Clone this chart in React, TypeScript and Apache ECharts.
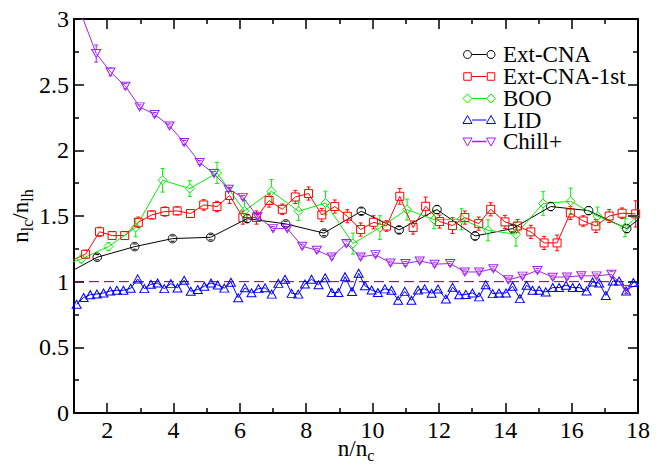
import React, { useEffect, useRef } from "react";
import * as echarts from "echarts";

const FONT = "Liberation Serif";

// ---------- data ----------
const seriesNames = ["Ext-CNA", "Ext-CNA-1st", "BOO", "LID", "Chill+"];

const cnaX = [0.56, 1.70, 2.83, 3.97, 5.12, 6.22, 7.38, 8.53, 9.66, 10.80, 11.94, 13.09, 14.22, 15.37, 16.51, 17.66, 18.80];
const cnaY = [1.03, 1.186, 1.267, 1.328, 1.338, 1.48, 1.44, 1.37, 1.536, 1.394, 1.549, 1.348, 1.404, 1.572, 1.541, 1.404, 1.63];
const cnaErr = [0.02, 0.02, 0.02, 0.02, 0.02, 0.03, 0.02, 0.02, 0.025, 0.025, 0.03, 0.03, 0.025, 0.03, 0.03, 0.03, 0.03];

const cna1X = [0.96, 1.35, 1.77, 2.15, 2.53, 2.94, 3.34, 3.74, 4.11, 4.51, 4.91, 5.31, 5.69, 6.09, 6.50, 6.88, 7.28, 7.67, 8.07, 8.47, 8.86, 9.24, 9.64, 10.03, 10.42, 10.82, 11.22, 11.60, 12.02, 12.41, 12.78, 13.20, 13.56, 13.99, 14.37, 14.77, 15.17, 15.56, 15.96, 16.35, 16.73, 17.13, 17.52, 17.93];
const cna1Y = [1.165, 1.209, 1.38, 1.351, 1.351, 1.452, 1.508, 1.534, 1.539, 1.519, 1.584, 1.572, 1.656, 1.488, 1.488, 1.618, 1.551, 1.645, 1.671, 1.508, 1.572, 1.498, 1.397, 1.452, 1.424, 1.650, 1.412, 1.574, 1.458, 1.427, 1.488, 1.442, 1.551, 1.455, 1.424, 1.379, 1.295, 1.295, 1.523, 1.462, 1.424, 1.500, 1.521, 1.516];
const cna1Err = [0.03, 0.03, 0.035, 0.03, 0.03, 0.04, 0.03, 0.035, 0.03, 0.03, 0.04, 0.04, 0.06, 0.05, 0.05, 0.05, 0.04, 0.05, 0.05, 0.05, 0.05, 0.05, 0.05, 0.05, 0.04, 0.06, 0.05, 0.07, 0.05, 0.06, 0.05, 0.05, 0.05, 0.05, 0.05, 0.05, 0.05, 0.06, 0.05, 0.04, 0.05, 0.05, 0.04, 0.1];

const booX = [0.40, 1.22, 2.04, 2.86, 3.67, 4.49, 5.31, 6.14, 6.95, 7.77, 8.58, 9.41, 10.22, 11.04, 11.85, 12.68, 13.48, 14.32, 15.14, 15.97, 16.78, 17.61, 18.43];
const booY = [1.10, 1.173, 1.267, 1.412, 1.772, 1.709, 1.828, 1.539, 1.688, 1.536, 1.599, 1.290, 1.412, 1.549, 1.473, 1.475, 1.391, 1.361, 1.595, 1.612, 1.498, 1.412, 1.60];
const booErr = [0.03, 0.03, 0.03, 0.07, 0.09, 0.06, 0.08, 0.08, 0.09, 0.07, 0.09, 0.08, 0.09, 0.08, 0.07, 0.08, 0.08, 0.09, 0.09, 0.1, 0.07, 0.07, 0.07];

const lidX = [1.08, 1.29, 1.49, 1.69, 1.89, 2.09, 2.29, 2.49, 2.71, 2.92, 3.12, 3.32, 3.52, 3.72, 3.92, 4.12, 4.32, 4.52, 4.73, 4.93, 5.13, 5.33, 5.53, 5.73, 5.95, 6.15, 6.35, 6.56, 6.76, 6.96, 7.16, 7.36, 7.56, 7.76, 7.96, 8.16, 8.37, 8.57, 8.77, 8.97, 9.17, 9.38, 9.58, 9.77, 9.97, 10.16, 10.37, 10.57, 10.77, 10.97, 11.17, 11.37, 11.57, 11.78, 11.97, 12.21, 12.41, 12.61, 12.81, 13.01, 13.21, 13.41, 13.62, 13.81, 14.02, 14.22, 14.44, 14.64, 14.82, 15.02, 15.22, 15.43, 15.62, 15.83, 16.03, 16.23, 16.45, 16.63, 16.83, 17.03, 17.24, 17.43, 17.64, 17.86];
const lidY = [0.828, 0.879, 0.901, 0.906, 0.914, 0.929, 0.934, 0.934, 0.950, 1.021, 0.947, 0.980, 0.990, 0.947, 0.985, 0.952, 1.011, 0.927, 0.940, 0.965, 0.99, 0.975, 0.951, 0.996, 0.878, 0.953, 0.915, 0.947, 0.953, 0.905, 0.987, 1.018, 0.911, 0.905, 0.982, 1.018, 0.976, 1.03, 0.918, 0.918, 1.038, 0.925, 1.064, 0.969, 0.937, 0.918, 0.945, 0.935, 0.858, 0.926, 0.858, 0.937, 0.945, 0.912, 0.944, 0.868, 0.958, 0.900, 0.903, 0.914, 0.884, 0.977, 0.909, 0.914, 0.914, 0.965, 0.871, 0.973, 0.934, 0.934, 0.922, 0.955, 0.955, 0.973, 0.955, 0.955, 0.929, 0.998, 0.990, 0.895, 1.005, 1.005, 0.929, 0.994];

const chillX = [1.23, 1.67, 2.10, 2.55, 2.98, 3.43, 3.88, 4.32, 4.79, 5.22, 5.66, 6.09, 6.53, 7.00, 7.43, 7.88, 8.32, 8.77, 9.21, 9.64, 10.09, 10.54, 10.99, 11.42, 11.87, 12.34, 12.78, 13.21, 13.64, 14.09, 14.52, 14.97, 15.43, 15.86, 16.29, 16.75, 17.20, 17.65, 18.10];
const chillY = [3.03, 2.737, 2.597, 2.488, 2.331, 2.273, 2.186, 2.06, 1.907, 1.823, 1.704, 1.642, 1.497, 1.404, 1.404, 1.270, 1.239, 1.188, 1.290, 1.188, 1.206, 1.142, 1.138, 1.158, 1.133, 1.138, 1.074, 1.074, 1.098, 1.014, 1.042, 1.085, 1.034, 1.036, 1.045, 1.044, 1.056, 0.94, 0.99];
const chillErr = [0.03, 0.065, 0.03, 0.02, 0.015, 0.015, 0.015, 0.015, 0.015, 0.015, 0.015, 0.015, 0.015, 0.015, 0.015, 0.015, 0.015, 0.015, 0.02, 0.015, 0.015, 0.015, 0.015, 0.015, 0.015, 0.015, 0.015, 0.015, 0.015, 0.015, 0.015, 0.015, 0.015, 0.015, 0.015, 0.015, 0.02, 0.03, 0.03];

const refLineX = [1, 18];
const refLineY = [1, 1];

const xMajor = [2, 4, 6, 8, 10, 12, 14, 16, 18];
const xMinor = [3, 5, 7, 9, 11, 13, 15, 17];

// ---------- styles ----------
const C_BLACK = "#000000";
const C_RED = "#ff0000";
const C_GREEN = "#00f000";
const C_BLUE = "#0000ff";
const C_PURPLE = "#a020f0";
const C_DASH = "#670748";

const TRI_DOWN = "path://M0,0L10,0L5,9Z";

const zip = (xs: number[], ys: number[]) => xs.map((x, i) => [x, ys[i]]);
const zip3 = (xs: number[], ys: number[], es: number[]) =>
  xs.map((x, i) => [x, ys[i], es[i]]).filter((d) => d[0] >= 1 && d[0] <= 18);

function errSeries(data: number[][], color: string, gap: number) {
  return {
    type: "custom",
    clip: true,
    silent: true,
    data,
    encode: { x: 0, y: 1 },
    renderItem: (_p: any, api: any) => {
      const x = api.value(0);
      const y = api.value(1);
      const e = api.value(2);
      const pt = api.coord([x, y + e]);
      const pb = api.coord([x, y - e]);
      const pc = api.coord([x, y]);
      const w = 2;
      const st = { stroke: color, lineWidth: 1 };
      const ch: any[] = [];
      if (pc[1] - gap > pt[1]) {
        ch.push({ type: "line", shape: { x1: pt[0], y1: pt[1], x2: pc[0], y2: pc[1] - gap }, style: st });
      }
      if (pc[1] + gap < pb[1]) {
        ch.push({ type: "line", shape: { x1: pb[0], y1: pb[1], x2: pc[0], y2: pc[1] + gap }, style: st });
      }
      ch.push({ type: "line", shape: { x1: pt[0] - w, y1: pt[1], x2: pt[0] + w, y2: pt[1] }, style: st });
      ch.push({ type: "line", shape: { x1: pb[0] - w, y1: pb[1], x2: pb[0] + w, y2: pb[1] }, style: st });
      return { type: "group", children: ch };
    },
    z: 3,
  };
}

function lineSeries(name: string, data: number[][], color: string, symbol: string, size: any) {
  return {
    name,
    type: "line",
    data,
    clip: true,
    symbol,
    symbolSize: size,
    showAllSymbol: true,
    color,
    lineStyle: { color, width: 1 },
    itemStyle: { color: "rgba(255,255,255,0)", borderColor: color, borderWidth: 1 },
    emphasis: { disabled: true },
    z: 4,
  };
}

function legendGraphics() {
  const rows = [54.5, 76.5, 98.5, 120, 141.5];
  const colors = [C_BLACK, C_RED, C_GREEN, C_BLUE, C_PURPLE];
  const shapes = ["circle", "square", "diamond", "up", "down"];
  const x1 = 467.5;
  const x2 = 491;
  const els: any[] = [];
  const sym = (kind: string, cx: number, cy: number, c: string) => {
    const st = { fill: "none", stroke: c, lineWidth: 1 };
    if (kind === "circle") return { type: "circle", shape: { cx, cy, r: 4 }, style: st };
    if (kind === "square") return { type: "rect", shape: { x: cx - 3.75, y: cy - 3.75, width: 7.5, height: 7.5 }, style: st };
    if (kind === "diamond")
      return { type: "polygon", shape: { points: [[cx, cy - 4.5], [cx + 4.5, cy], [cx, cy + 4.5], [cx - 4.5, cy]] }, style: st };
    if (kind === "up")
      return { type: "polygon", shape: { points: [[cx, cy - 4.5], [cx + 4.5, cy + 3.5], [cx - 4.5, cy + 3.5]] }, style: st };
    return { type: "polygon", shape: { points: [[cx - 4.5, cy - 3.5], [cx + 4.5, cy - 3.5], [cx, cy + 4.5]] }, style: st };
  };
  rows.forEach((y, i) => {
    const c = colors[i];
    els.push({ type: "line", shape: { x1: x1 + 4.5, y1: y, x2: x2 - 4.5, y2: y }, style: { stroke: c, lineWidth: i === 4 ? 1.5 : 1 } });
    els.push(sym(shapes[i], x1, y, c));
    els.push(sym(shapes[i], x2, y, c));
    els.push({
      type: "text",
      style: {
        text: seriesNames[i],
        x: 503,
        y,
        fill: "#000",
        fontSize: 23,
        lineHeight: 20,
        fontFamily: FONT,
        align: "left",
        verticalAlign: "middle",
      },
    });
  });
  return els;
}

export default function App() {
  const ref = useRef<HTMLDivElement>(null);
  useEffect(() => {
    if (!ref.current) return;
    const chart = echarts.init(ref.current, null, { renderer: "svg" });
    const axisLineStyle = { color: "#000", width: 2 };
    const tickStyle = { color: "#000", width: 1.5 };
    const nameRich = {
      n: { fontSize: 23, fontFamily: FONT, color: "#000" },
      s: { fontSize: 16, fontFamily: FONT, color: "#000", padding: [13, 0, 0, 0] },
    };
    const option: any = {
      animation: false,
      backgroundColor: "#fff",
      textStyle: { fontFamily: FONT },
      grid: { left: 74, right: 25, top: 19, bottom: 53, containLabel: false, outerBoundsMode: "none" },
      xAxis: [
        {
          type: "value",
          min: 1,
          max: 18,
          position: "bottom",
          axisLine: { show: true, onZero: false, lineStyle: axisLineStyle },
          axisTick: { show: true, inside: true, length: 10, lineStyle: tickStyle, customValues: xMajor },
          axisLabel: { show: true, customValues: xMajor, fontSize: 24, fontFamily: FONT, color: "#000", margin: 5 },
          splitLine: { show: false },
          name: "{n|n/n}{s|c}",
          nameLocation: "middle",
          nameGap: 21,
          nameMoveOverlap: false,
          nameTextStyle: { rich: nameRich, fontFamily: FONT },
        },
        {
          type: "value",
          min: 1,
          max: 18,
          position: "bottom",
          axisLine: { show: false, onZero: false },
          axisTick: { show: true, inside: true, length: 5, lineStyle: tickStyle, customValues: xMinor },
          axisLabel: { show: false },
          splitLine: { show: false },
        },
        {
          type: "value",
          min: 1,
          max: 18,
          position: "top",
          axisLine: { show: true, onZero: false, lineStyle: axisLineStyle },
          axisTick: { show: true, inside: true, length: 10, lineStyle: tickStyle, customValues: xMajor },
          axisLabel: { show: false },
          splitLine: { show: false },
        },
        {
          type: "value",
          min: 1,
          max: 18,
          position: "top",
          axisLine: { show: false, onZero: false },
          axisTick: { show: true, inside: true, length: 5, lineStyle: tickStyle, customValues: xMinor },
          axisLabel: { show: false },
          splitLine: { show: false },
        },
      ],
      yAxis: [
        {
          type: "value",
          min: 0,
          max: 3,
          interval: 0.5,
          position: "left",
          axisLine: { show: true, onZero: false, lineStyle: axisLineStyle },
          axisTick: { show: true, inside: true, length: 10, lineStyle: tickStyle },
          minorTick: { show: true, splitNumber: 2, length: 5, lineStyle: tickStyle },
          axisLabel: { fontSize: 24, fontFamily: FONT, color: "#000", margin: 5 },
          splitLine: { show: false },
          name: "{n|n}{s|lc}{n|/n}{s|lh}",
          nameLocation: "middle",
          nameRotate: 90,
          nameGap: 39,
          nameMoveOverlap: false,
          nameTextStyle: { rich: nameRich, fontFamily: FONT },
        },
        {
          type: "value",
          min: 0,
          max: 3,
          interval: 0.5,
          position: "right",
          axisLine: { show: true, onZero: false, lineStyle: axisLineStyle },
          axisTick: { show: true, inside: true, length: 10, lineStyle: tickStyle },
          minorTick: { show: true, splitNumber: 2, length: 5, lineStyle: tickStyle },
          axisLabel: { show: false },
          splitLine: { show: false },
        },
      ],
      graphic: legendGraphics(),
      series: [
        {
          type: "line",
          data: zip(refLineX, refLineY),
          symbol: "none",
          lineStyle: { color: C_DASH, width: 1, type: [10, 5] },
          silent: true,
          z: 2,
        },
        errSeries(zip3(cnaX, cnaY, cnaErr), C_BLACK, 4),
        lineSeries(seriesNames[0], zip(cnaX, cnaY), C_BLACK, "circle", 8.5),
        errSeries(zip3(cna1X, cna1Y, cna1Err), C_RED, 4),
        lineSeries(seriesNames[1], zip(cna1X, cna1Y), C_RED, "rect", 8),
        errSeries(zip3(booX, booY, booErr), C_GREEN, 4.5),
        lineSeries(seriesNames[2], zip(booX, booY), C_GREEN, "diamond", [9, 9]),
        lineSeries(seriesNames[3], zip(lidX, lidY), C_BLUE, "triangle", [9, 8]),
        errSeries(zip3(chillX, chillY, chillErr), C_PURPLE, 4),
        lineSeries(seriesNames[4], zip(chillX, chillY), C_PURPLE, TRI_DOWN, [9, 8]),
      ],
    };
    chart.setOption(option);
    return () => chart.dispose();
  }, []);
  return (
    <div
      ref={ref}
      style={{ position: "absolute", left: 0, top: 0, width: 663, height: 466, background: "#fff" }}
    />
  );
}
